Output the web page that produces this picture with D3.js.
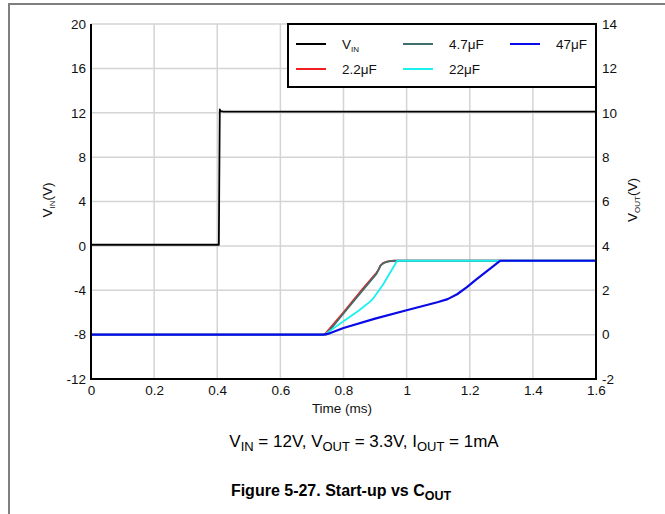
<!DOCTYPE html>
<html>
<head>
<meta charset="utf-8">
<script src="https://cdn.jsdelivr.net/npm/d3@7"></script>
<style>
  body { margin: 0; background: #fff; }
  svg { font-family: "Liberation Sans", Arial, sans-serif; }
</style>
</head>
<body>
<div id="chart"></div>
<script>
// x axis ticks (ms), left axis VIN, right axis VOUT
var xTicks = [0, 0.2, 0.4, 0.6, 0.8, 1, 1.2, 1.4, 1.6];
var vinTicks = [-12, -8, -4, 0, 4, 8, 12, 16, 20];
var voutTicks = [-2, 0, 2, 4, 6, 8, 10, 12, 14];

// VIN trace (left axis)
var vinTime = [0, 0.405, 0.408, 0.411, 0.42, 1.6];
var vinVolt = [0.1, 0.1, 12.3, 12.15, 12.1, 12.1];

// VOUT traces (right axis), one per output cap
var c2u2Time = [0, 0.74, 0.80, 0.86, 0.905, 0.912, 0.916, 0.925, 0.94, 0.96, 1.6];
var c2u2Volt = [0, 0, 1.0, 2.05, 2.8, 2.95, 3.1, 3.22, 3.3, 3.33, 3.33];
var c4u7Time = [0, 0.745, 0.80, 0.86, 0.905, 0.912, 0.918, 0.93, 0.95, 0.97, 1.6];
var c4u7Volt = [0, 0, 0.95, 1.98, 2.75, 2.95, 3.12, 3.25, 3.32, 3.33, 3.33];
var c22Time = [0, 0.74, 0.80, 0.85, 0.885, 0.895, 0.925, 0.97, 1.6];
var c22Volt = [0, 0, 0.6, 1.1, 1.5, 1.65, 2.25, 3.33, 3.33];
var c47Time = [0, 0.735, 0.75, 0.8, 0.9, 1.0, 1.07, 1.10, 1.13, 1.16, 1.19, 1.22, 1.297, 1.6];
var c47Volt = [0, 0, 0.03, 0.3, 0.72, 1.1, 1.36, 1.47, 1.6, 1.82, 2.13, 2.48, 3.33, 3.33];

var W = 665, H = 514;
// plot box (pixels)
var pL = 91, pR = 596, pT = 24, pB = 379;

var svg = d3.select("#chart").append("svg")
    .attr("width", W).attr("height", H);

// outer figure border (top + left only)
svg.append("path")
    .attr("d", "M9,514 L9,4 L665,4")
    .attr("fill", "none").attr("stroke", "#7f7f7f").attr("stroke-width", 2);

var x = d3.scaleLinear().domain([0, 1.6]).range([pL, pR]);
var yL = d3.scaleLinear().domain([-12, 20]).range([pB, pT]);
var yR = d3.scaleLinear().domain([-2, 14]).range([pB, pT]);

// grid
var grid = svg.append("g").attr("stroke", "#d4d4d4").attr("stroke-width", 1.5);
xTicks.forEach(function(t){
    grid.append("line").attr("x1", x(t)).attr("x2", x(t)).attr("y1", pT).attr("y2", pB);
});
vinTicks.forEach(function(t){
    grid.append("line").attr("x1", pL).attr("x2", pR).attr("y1", yL(t)).attr("y2", yL(t));
});

// axes with labels only, frame drawn below (plain hyphen for minus)
var fmt = function(d){ return String(d); };
var gx = svg.append("g").attr("transform", "translate(0," + pB + ")")
    .call(d3.axisBottom(x).tickValues(xTicks).tickSize(0).tickPadding(6).tickFormat(fmt));
var gl = svg.append("g").attr("transform", "translate(" + pL + ",0)")
    .call(d3.axisLeft(yL).tickValues(vinTicks).tickSize(0).tickPadding(5).tickFormat(fmt));
var gr = svg.append("g").attr("transform", "translate(" + pR + ",0)")
    .call(d3.axisRight(yR).tickValues(voutTicks).tickSize(0).tickPadding(6).tickFormat(fmt));
[gx, gl, gr].forEach(function(g){
    g.attr("font-size", 13.5).attr("font-family", "Liberation Sans, Arial, sans-serif");
    g.select(".domain").remove();
    g.selectAll("text").attr("fill", "#111");
});

// traces
var series = [
    {name: "VIN", t: vinTime, v: vinVolt, y: yL, color: "#000000", w: 1.8},
    {name: "2.2μF", t: c2u2Time, v: c2u2Volt, y: yR, color: "#f02020", w: 1.8},
    {name: "4.7μF", t: c4u7Time, v: c4u7Volt, y: yR, color: "#3f6e6c", w: 1.8},
    {name: "22μF", t: c22Time, v: c22Volt, y: yR, color: "#19f0f0", w: 1.8},
    {name: "47μF", t: c47Time, v: c47Volt, y: yR, color: "#0a0ae8", w: 2.2}
];
series.forEach(function(s){
    var pts = s.t.map(function(t, i){ return [t, s.v[i]]; });
    var line = d3.line().x(function(d){ return x(d[0]); }).y(function(d){ return s.y(d[1]); });
    svg.append("path").datum(pts).attr("d", line)
        .attr("fill", "none").attr("stroke", s.color).attr("stroke-width", s.w)
        .attr("stroke-linejoin", "round");
});

// frame: left, bottom, right black
svg.append("path")
    .attr("d", "M" + pL + "," + pT + " L" + pL + "," + pB + " L" + pR + "," + pB + " L" + pR + "," + pT)
    .attr("fill", "none").attr("stroke", "#000").attr("stroke-width", 2);

// legend
var lg = svg.append("g");
lg.append("rect").attr("x", 288).attr("y", pT).attr("width", pR - 288).attr("height", 63)
    .attr("fill", "#fff").attr("stroke", "#000").attr("stroke-width", 2);
var legPos = [[296, 44], [296, 69], [403, 44], [403, 69], [510, 44]];
// order in legend: VIN, 2.2, 4.7, 22, 47 (column-wise)
series.forEach(function(s, i){
    var p = legPos[i];
    lg.append("line").attr("x1", p[0]).attr("x2", p[0] + 30).attr("y1", p[1]).attr("y2", p[1])
        .attr("stroke", s.color).attr("stroke-width", 2);
    var tx = lg.append("text").attr("x", p[0] + 46).attr("y", p[1] + 5).attr("font-size", 13.5).attr("fill", "#111");
    if (s.name === "VIN") {
        tx.append("tspan").text("V");
        tx.append("tspan").attr("font-size", 8).attr("dy", 3).text("IN");
    } else {
        tx.text(s.name);
    }
});

// axis titles
var tl = svg.append("text").attr("transform", "translate(52,200) rotate(-90)")
    .attr("text-anchor", "middle").attr("font-size", 13.5).attr("fill", "#111");
tl.append("tspan").text("V");
tl.append("tspan").attr("font-size", 8).attr("dy", 3).text("IN");
tl.append("tspan").attr("dy", -3).text("(V)");

var tr = svg.append("text").attr("transform", "translate(637,200) rotate(-90)")
    .attr("text-anchor", "middle").attr("font-size", 13.5).attr("fill", "#111");
tr.append("tspan").text("V");
tr.append("tspan").attr("font-size", 8).attr("dy", 3).text("OUT");
tr.append("tspan").attr("dy", -3).text("(V)");

svg.append("text").attr("x", 342).attr("y", 413).attr("text-anchor", "middle")
    .attr("font-size", 13.5).attr("fill", "#111").text("Time (ms)");

// captions
var cap = svg.append("text").attr("x", 364).attr("y", 447).attr("text-anchor", "middle")
    .attr("font-size", 17).attr("fill", "#000");
cap.append("tspan").text("V");
cap.append("tspan").attr("font-size", 13).attr("dy", 4).text("IN");
cap.append("tspan").attr("dy", -4).text(" = 12V, V");
cap.append("tspan").attr("font-size", 13).attr("dy", 4).text("OUT");
cap.append("tspan").attr("dy", -4).text(" = 3.3V, I");
cap.append("tspan").attr("font-size", 13).attr("dy", 4).text("OUT");
cap.append("tspan").attr("dy", -4).text(" = 1mA");

var fig = svg.append("text").attr("x", 341).attr("y", 496).attr("text-anchor", "middle")
    .attr("font-size", 16).attr("font-weight", "bold").attr("fill", "#000");
fig.append("tspan").text("Figure 5-27. Start-up vs C");
fig.append("tspan").attr("font-size", 12.5).attr("dy", 4).text("OUT");
</script>
</body>
</html>
